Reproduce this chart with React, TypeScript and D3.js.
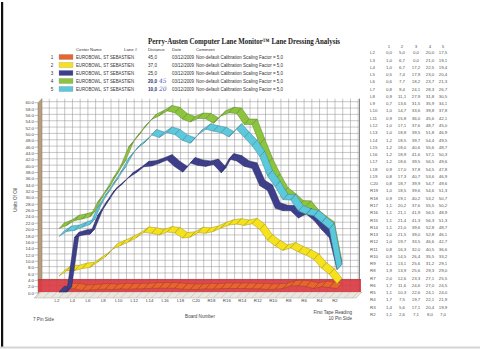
import React from "react";
import * as d3 from "d3";

const boards = ["L2","L3","L4","L5","L6","L7","L8","L9","L10","L11","L12","L13","L14","L15","L16","L17","L18","L19","C20","R19","R18","R17","R16","R15","R14","R13","R12","R11","R10","R9","R8","R7","R6","R5","R4","R3","R2"];
const xTickLabels = ["L2","L4","L6","L8","L10","L12","L14","L16","L18","C20","R18","R16","R14","R12","R10","R8","R6","R4","R2"];

const series1 = [0.0,1.0,1.0,0.5,0.6,0.8,0.9,0.7,1.0,0.9,1.0,1.0,1.2,1.2,1.2,1.2,0.9,0.8,0.8,1.0,0.9,1.1,1.1,1.1,1.1,1.0,1.0,0.8,0.9,1.1,1.9,2.0,1.7,1.1,1.7,1.4,1.1];
const series2 = [5.0,6.7,6.7,7.4,7.7,9.4,11.1,13.6,14.7,15.8,17.1,18.8,18.5,18.0,18.9,18.6,17.0,17.3,18.7,18.5,19.1,20.2,21.1,21.4,21.0,21.5,19.7,16.3,14.5,13.1,13.9,12.6,11.6,10.3,7.5,5.6,2.6];
const series3 = [0.0,0.0,17.2,17.9,18.2,24.1,27.9,31.5,33.6,36.0,37.6,39.5,39.7,40.6,41.6,39.5,37.8,40.7,39.9,39.6,40.2,37.6,41.9,41.3,39.6,39.0,33.5,32.0,26.4,25.6,25.6,23.3,24.6,22.6,19.7,17.1,7.1];
const series4 = [20.0,21.0,22.5,23.0,23.7,28.3,31.8,35.9,39.8,45.6,48.7,51.8,54.4,55.6,57.1,56.5,54.5,53.6,54.7,54.6,53.2,55.5,56.5,56.3,52.8,52.8,46.6,40.5,35.5,31.2,29.3,27.1,27.0,24.1,22.1,20.4,8.0];
const series5 = [17.5,19.1,19.4,20.4,21.3,26.7,30.5,34.1,37.8,42.1,45.0,46.9,49.5,48.7,50.3,49.6,47.8,46.9,49.6,51.3,50.7,50.2,48.9,51.3,48.7,46.1,42.7,36.6,33.2,29.1,29.0,25.5,24.5,24.0,21.9,19.9,7.0];

const seriesValues = [series1, series2, series3, series4, series5];
const seriesColors = ["#e8652f", "#f6e21c", "#3d3f8c", "#8cc43e", "#5cc8dc"];
const legendNumbers = ["1", "2", "3", "4", "5"];
const centerNames = ["EUROBOWL, ST SEBASTIEN","EUROBOWL, ST SEBASTIEN","EUROBOWL, ST SEBASTIEN","EUROBOWL, ST SEBASTIEN","EUROBOWL, ST SEBASTIEN"];
const distances = ["45,0", "37,0", "25,0", "20,0", "10,0"];
const handNotes = ["", "", "", "45", "20"];
const dates = ["03/12/2009","03/12/2009","03/12/2009","03/12/2009","03/12/2009"];
const comments = ["Non-default Calibration Scaling Factor = 5,0","Non-default Calibration Scaling Factor = 5,0","Non-default Calibration Scaling Factor = 5,0","Non-default Calibration Scaling Factor = 5,0","Non-default Calibration Scaling Factor = 5,0"];
const tableHeaders = ["1", "2", "3", "4", "5"];

const fmt1 = (v: number) => v.toFixed(1).replace(".", ",");

export default function App() {
  const W = 480, H = 349;
  const x = d3.scalePoint<string>().domain(boards).range([57, 335]);
  const step = x.step();
  const y = d3.scaleLinear().domain([0, 60]).range([292, 101.7]);
  const yTicks = d3.range(0, 61, 2);
  const sx = 2;
  const off = { x: 5, y: -5.5 };

  const gridXs = d3.range(-2, boards.length + 3).map((k) => 57 + k * step).filter((g) => g >= 41 && g <= 359);

  const ribbon = (vals: number[], color: string, key: string) => {
    const pts = vals.map((v, i) => [(x(boards[i]) as number) + sx, y(v)] as [number, number]);
    const stroke = d3.color(color)!.darker(1.3).formatHex();
    const segs = [];
    for (let i = 0; i < pts.length - 1; i++) {
      const a = pts[i], b = pts[i + 1];
      const d = `M${a[0]},${a[1]}L${b[0]},${b[1]}L${b[0] + off.x},${b[1] + off.y}L${a[0] + off.x},${a[1] + off.y}Z`;
      segs.push(<path key={key + i} d={d} fill={color} stroke={stroke} strokeWidth={0.45} strokeLinejoin="round" />);
    }
    return <g key={key}>{segs}</g>;
  };

  const font = "'Liberation Sans', Arial, sans-serif";
  const legendRowY = [57, 65, 73, 81, 89];
  const tableCols = [389, 402, 416, 430, 443];

  return (
    <svg width={W} height={H} style={{ position: "absolute", left: 0, top: 0, background: "#fff" }} fontFamily={font}>
      <rect x={0} y={0} width={W} height={H} fill="#fff" />
      <rect x={1} y={2} width={2.2} height={345} fill="#111" />
      <line x1={0} x2={W} y1={347.5} y2={347.5} stroke="#d4d4d4" strokeWidth={2} />

      {/* Title */}
      <text x={148} y={44} fontFamily="'Liberation Serif', 'Times New Roman', serif" fontWeight="bold" fontSize={8.4} fill="#222" textLength={192} lengthAdjust="spacingAndGlyphs">
        Perry-Austen Computer Lane Monitor™ Lane Dressing Analysis
      </text>

      {/* Legend table */}
      <g fontSize={4.3} fill="#333">
        <text x={76} y={51}>Center Name</text>
        <text x={124} y={51}>Lane #</text>
        <text x={148} y={51}>Distance</text>
        <text x={172} y={51}>Date</text>
        <text x={196} y={51}>Comment</text>
      </g>
      {legendNumbers.map((n, i) => (
        <g key={"lg" + i} fontSize={4.6} fill="#333">
          <text x={52} y={legendRowY[i] + 1.6} textAnchor="middle">{n}</text>
          <rect x={59} y={legendRowY[i] - 2.6} width={14} height={5.2} fill={seriesColors[i]} stroke="#999" strokeWidth={0.3} />
          <text x={76} y={legendRowY[i] + 1.6} textLength={58} lengthAdjust="spacingAndGlyphs">{centerNames[i]}</text>
          {handNotes[i] ? (
            <g>
              <text x={148} y={legendRowY[i] + 1.6} fontWeight="bold" fill="#2a2f6a" textLength={9} lengthAdjust="spacingAndGlyphs">{distances[i]}</text>
              <text x={159} y={legendRowY[i] + 2} fontStyle="italic" fontSize={6} fill="#4a58b0" fontFamily="'DejaVu Serif', serif">{handNotes[i]}</text>
            </g>
          ) : (
            <text x={148} y={legendRowY[i] + 1.6}>{distances[i]}</text>
          )}
          <text x={172} y={legendRowY[i] + 1.6} textLength={22} lengthAdjust="spacingAndGlyphs">{dates[i]}</text>
          <text x={196} y={legendRowY[i] + 1.6} textLength={87} lengthAdjust="spacingAndGlyphs">{comments[i]}</text>
        </g>
      ))}

      {/* Right data table */}
      <g fontSize={4.4} fill="#555">
        {tableHeaders.map((h, j) => (
          <text key={"th" + j} x={tableCols[j]} y={47.5} textAnchor="middle">{h}</text>
        ))}
        {boards.map((b, i) => {
          const cy = 52.7 + i * 7.27;
          return (
            <g key={"tr" + i}>
              <text x={370} y={cy + 1.6}>{b}</text>
              {seriesValues.map((vals, j) => (
                <text key={j} x={tableCols[j]} y={cy + 1.6} textAnchor="middle">{fmt1(vals[i])}</text>
              ))}
            </g>
          );
        })}
      </g>

      {/* Back wall grid */}
      <rect x={42} y={y(60) - 3} width={317} height={292 - y(60) + 3} fill="#fff" />
      {yTicks.map((t) => (
        <line key={"hg" + t} x1={42} x2={359} y1={y(t)} y2={y(t)} stroke="#8f8f8f" strokeWidth={0.5} />
      ))}
      {gridXs.map((g, k) => (
        <line key={"vg" + k} x1={g} x2={g} y1={y(60) - 3} y2={292} stroke="#8f8f8f" strokeWidth={0.5} />
      ))}
      <line x1={359.5} x2={359.5} y1={y(60) - 3} y2={292} stroke="#666" strokeWidth={0.8} />

      {/* Left side wall */}
      <path d={`M38,${y(60) + 1}L42,${y(60) - 3}L42,292L38,297Z`} fill="#b49d80" stroke="#8c7a60" strokeWidth={0.5} />

      {/* Y axis labels */}
      {yTicks.map((t) => (
        <g key={"yl" + t}>
          <line x1={34.5} x2={38} y1={y(t) + 1} y2={y(t) + 1} stroke="#666" strokeWidth={0.4} />
          <text x={34} y={y(t) + 2.6} fontSize={4.4} fill="#444" textAnchor="end">{t.toFixed(1)}</text>
        </g>
      ))}
      <text transform={`translate(16.5,200) rotate(-90)`} fontSize={4.6} fill="#444" textAnchor="middle">Units Of Oil</text>

      {/* Floor */}
      <path d="M34,298L356,298L362,292L40,292Z" fill="#ebe7df" stroke="#999" strokeWidth={0.4} />
      {gridXs.map((g, k) => (
        <line key={"fh" + k} x1={g} x2={g - 6} y1={292} y2={298} stroke="#aaa" strokeWidth={0.4} />
      ))}

      {/* Red band (series 1 floor) */}
      <rect x={38} y={y(3.9)} width={323} height={292 - y(3.9)} fill="#d93a42" opacity={0.92} />
      <line x1={38} x2={361} y1={y(3.9)} y2={y(3.9)} stroke="#b52a33" strokeWidth={0.8} />

      {/* Ribbons */}
      {ribbon(series1, seriesColors[0], "s1")}
      {ribbon(series2, seriesColors[1], "s2")}
      {ribbon(series4, seriesColors[3], "s4")}
      {ribbon(series3, seriesColors[2], "s3")}
      {ribbon(series5, seriesColors[4], "s5")}

      {/* X axis labels */}
      {xTickLabels.map((l) => (
        <text key={"xl" + l} x={x(l) as number} y={302} fontSize={4.4} fill="#444" textAnchor="middle">{l}</text>
      ))}
      <text x={200} y={317.5} fontSize={4.6} fill="#444" textAnchor="middle">Board Number</text>
      <text x={33} y={320.5} fontSize={4.6} fill="#444">7 Pin Side</text>
      <text x={352} y={314} fontSize={4.6} fill="#444" textAnchor="end">First Tape Reading</text>
      <text x={352} y={319.5} fontSize={4.6} fill="#444" textAnchor="end">10 Pin Side</text>
    </svg>
  );
}
